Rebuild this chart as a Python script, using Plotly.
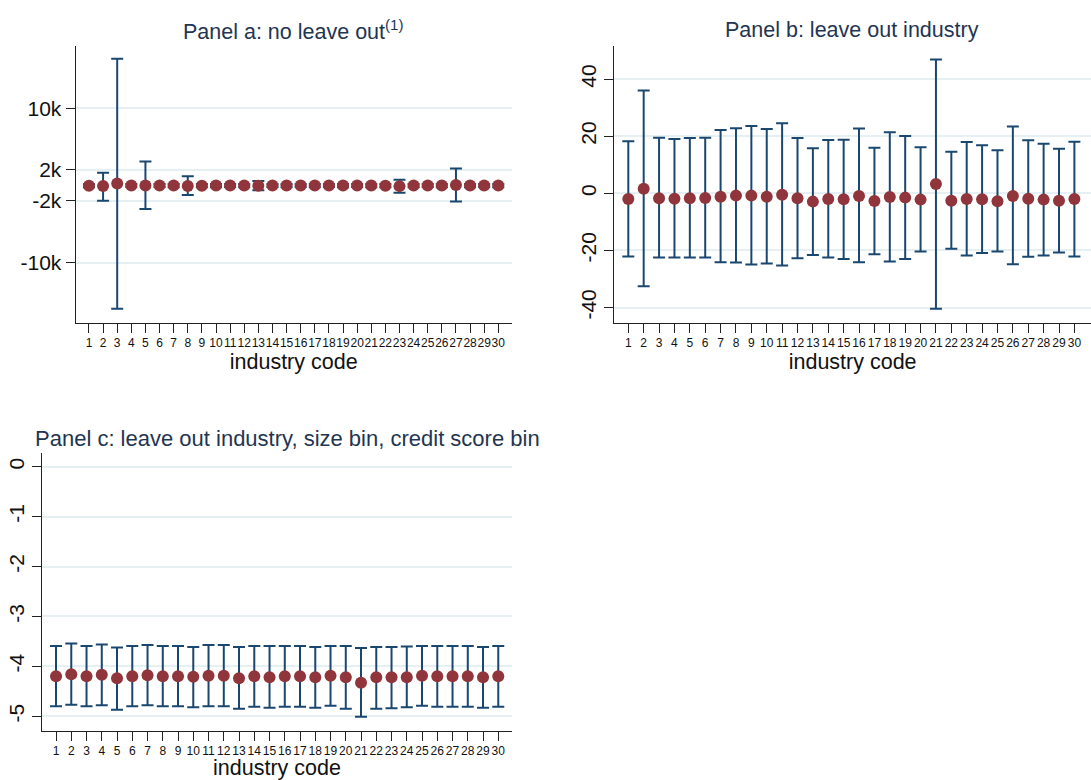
import plotly.graph_objects as go

# ---------------- data ----------------
industry = list(range(1, 31))

# Panel a: no leave out (point estimate with 95% CI)
a_est = [-50, -80, 230, -20, -30, -20, -30, -70, -40, -30,
         -20, -30, -60, -20, -30, -20, -30, -20, -30, -20,
         -30, -40, -100, -30, -20, -30, 60, -30, -20, -30]
a_lo = [-250, -1990, -16000, -220, -3080, -220, -230, -1260, -240, -230,
        -220, -230, -650, -220, -230, -220, -230, -220, -230, -220,
        -230, -240, -950, -230, -220, -230, -2080, -230, -220, -230]
a_hi = [150, 1650, 16400, 180, 3080, 180, 170, 1170, 160, 170,
        180, 170, 550, 180, 170, 180, 170, 180, 170, 180,
        170, 160, 740, 170, 180, 170, 2170, 170, 180, 170]

# Panel b: leave out industry
b_est = [-2.0, 1.6, -1.75, -1.9, -1.75, -1.6, -1.2, -0.8, -0.8, -1.2,
         -0.5, -1.75, -2.9, -2.0, -2.1, -0.9, -2.7, -1.3, -1.5, -2.2,
         3.3, -2.6, -2.0, -2.1, -2.8, -0.9, -1.9, -2.2, -2.6, -2.0]
b_lo = [-22.1, -32.5, -22.5, -22.5, -22.5, -22.5, -24.1, -24.2, -24.9, -24.6,
        -25.3, -22.7, -21.6, -22.5, -23.0, -24.1, -21.3, -23.9, -23.0, -20.4,
        -40.4, -19.4, -21.8, -20.9, -20.4, -24.8, -22.2, -21.8, -20.7, -22.1]
b_hi = [18.2, 36.0, 19.5, 19.0, 19.4, 19.5, 22.2, 22.8, 23.6, 22.5,
        24.5, 19.4, 15.8, 18.7, 18.8, 22.7, 16.0, 21.4, 20.1, 16.1,
        46.9, 14.6, 18.0, 16.8, 15.1, 23.4, 18.6, 17.4, 15.6, 18.1]

# Panel c: leave out industry, size bin, credit score bin
c_est = [-4.20, -4.16, -4.20, -4.17, -4.24, -4.20, -4.18, -4.20, -4.20, -4.21,
         -4.19, -4.19, -4.24, -4.20, -4.22, -4.20, -4.20, -4.22, -4.19, -4.22,
         -4.33, -4.22, -4.22, -4.22, -4.19, -4.20, -4.20, -4.20, -4.22, -4.20]
c_lo = [-4.80, -4.77, -4.80, -4.78, -4.87, -4.80, -4.78, -4.80, -4.80, -4.82,
        -4.80, -4.80, -4.85, -4.81, -4.83, -4.81, -4.81, -4.83, -4.79, -4.85,
        -5.01, -4.85, -4.84, -4.82, -4.79, -4.81, -4.81, -4.81, -4.83, -4.81]
c_hi = [-3.59, -3.54, -3.59, -3.56, -3.62, -3.59, -3.57, -3.59, -3.59, -3.61,
        -3.57, -3.57, -3.61, -3.59, -3.59, -3.59, -3.59, -3.61, -3.59, -3.59,
        -3.63, -3.61, -3.61, -3.60, -3.59, -3.59, -3.59, -3.59, -3.61, -3.59]

a_ticks = [-10000, -2000, 2000, 10000]
a_ticktext = ["-10k", "-2k", "2k", "10k"]
b_ticks = [-40, -20, 0, 20, 40]
b_ticktext = ["-40", "-20", "0", "20", "40"]
c_ticks = [0, -1, -2, -3, -4, -5]
c_ticktext = ["0", "-1", "-2", "-3", "-4", "-5"]

titles = ["Panel a: no leave out<sup>(1)</sup>",
          "Panel b: leave out industry",
          "Panel c: leave out industry, size bin, credit score bin"]

# ---------------- style ----------------
W, H = 1091, 780
FONT = "Arial, 'Liberation Sans', sans-serif"
MARKER = "#90353b"
BAR = "#1a476f"
GRID = "#e6eff2"
TITLE_C = "#1f3552"

fig = go.Figure()


def add_panel(idx, est, lo, hi):
    xa = "x" if idx == 1 else f"x{idx}"
    ya = "y" if idx == 1 else f"y{idx}"
    fig.add_trace(go.Scatter(
        x=industry, y=est, mode="markers", xaxis=xa, yaxis=ya,
        marker=dict(size=12, color=MARKER, line=dict(width=0)),
        error_y=dict(type="data", symmetric=False,
                     array=[h - e for h, e in zip(hi, est)],
                     arrayminus=[e - l for e, l in zip(est, lo)],
                     color=BAR, thickness=2, width=6),
        showlegend=False, hoverinfo="x+y"))


add_panel(1, a_est, a_lo, a_hi)
add_panel(2, b_est, b_lo, b_hi)
add_panel(3, c_est, c_lo, c_hi)


def px_x(p):
    return p / W


def px_y(p):
    return 1 - p / H


def x_axis(standoff):
    return dict(
        tickmode="array", tickvals=industry, ticktext=[str(i) for i in industry],
        tickangle=0,
        tickfont=dict(size=12, color="#111", family=FONT),
        showline=True, linecolor="#222", linewidth=1.3,
        ticks="outside", ticklen=9, tickwidth=1.3, tickcolor="#222",
        showgrid=False, zeroline=False,
        title=dict(text="industry code", font=dict(size=21.5, color="#111", family=FONT),
                   standoff=standoff),
    )


common_y = dict(
    showline=True, linecolor="#222", linewidth=1.3,
    ticks="outside", ticklen=9, tickwidth=1.3, tickcolor="#222",
    showgrid=True, gridcolor=GRID, gridwidth=1.5, zeroline=False,
    tickfont=dict(size=21, color="#111", family=FONT),
)

fig.update_layout(
    width=W, height=H,
    margin=dict(l=0, r=0, t=0, b=0),
    paper_bgcolor="white", plot_bgcolor="white",
    font=dict(family=FONT),
    xaxis=dict(x_axis(2), domain=[px_x(75.7), px_x(511.7)], range=[0.06, 30.95], anchor="y"),
    yaxis=dict(common_y, domain=[px_y(322.7), px_y(45.7)], range=[-17800, 18100],
               tickmode="array", tickvals=a_ticks, ticktext=a_ticktext, anchor="x"),
    xaxis2=dict(x_axis(2), domain=[px_x(614.3), 1.0], range=[0.09, 31.08], anchor="y2"),
    yaxis2=dict(common_y, domain=[px_y(322.7), px_y(45.7)], range=[-45.3, 51.7],
                tickmode="array", tickvals=b_ticks, ticktext=b_ticktext,
                tickangle=-90, anchor="x2"),
    xaxis3=dict(x_axis(5), domain=[px_x(42.3), px_x(511.7)], range=[0.10, 30.88], anchor="y3"),
    yaxis3=dict(common_y, domain=[px_y(730.7), px_y(453.3)], range=[-5.29, 0.27],
                tickmode="array", tickvals=c_ticks, ticktext=c_ticktext,
                tickangle=-90, anchor="x3"),
)

fig.add_annotation(text=titles[0], x=px_x(293), y=px_y(30), xref="paper", yref="paper",
                   xanchor="center", yanchor="middle", showarrow=False,
                   font=dict(size=21.5, color=TITLE_C, family=FONT))
fig.add_annotation(text=titles[1], x=px_x(852), y=px_y(30), xref="paper", yref="paper",
                   xanchor="center", yanchor="middle", showarrow=False,
                   font=dict(size=21.5, color=TITLE_C, family=FONT))
fig.add_annotation(text=titles[2], x=px_x(33), y=px_y(438), xref="paper", yref="paper",
                   xanchor="left", yanchor="middle", showarrow=False,
                   font=dict(size=22, color=TITLE_C, family=FONT))

fig.write_html("out.html")
